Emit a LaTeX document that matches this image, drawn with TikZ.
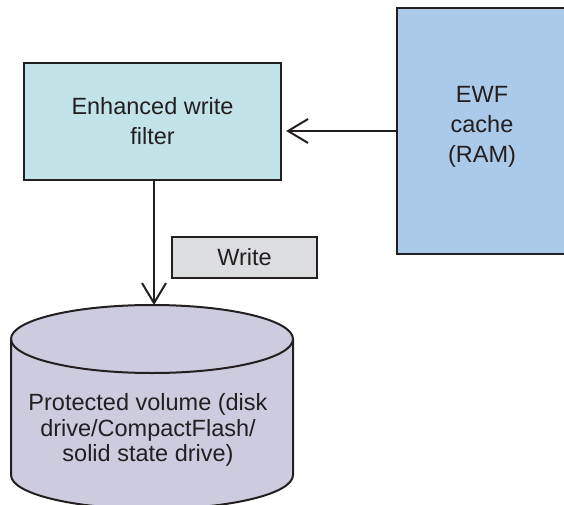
\documentclass[tikz,border=0pt]{standalone}
\usepackage{fontspec}
\setmainfont{Liberation Sans}
\usetikzlibrary{arrows.meta}

\definecolor{inkline}{RGB}{35,31,32}
\definecolor{filterfill}{RGB}{194,228,232}
\definecolor{cachefill}{RGB}{171,201,232}
\definecolor{writefill}{RGB}{220,221,223}
\definecolor{volfill}{RGB}{204,204,222}

\tikzset{
  boxstyle/.style={draw=inkline, line width=2.2pt, inner sep=0pt, align=center,
    text=inkline, font=\fontsize{23.5}{30}\selectfont},
  labelstyle/.style={align=center, text=inkline, font=\fontsize{23.5}{30}\selectfont},
  flowarrow/.style={draw=inkline, line width=2pt,
    -{Straight Barb[length=20pt,width=24pt,line width=2pt]}},
}

\begin{document}
\begin{tikzpicture}[x=1pt,y=1pt]
  \useasboundingbox (0,0) rectangle (564,504);

  % filter box
  \node[boxstyle, fill=filterfill, minimum width=257pt, minimum height=117pt]
    (filter) at (152.5,382.5) {Enhanced write\\filter};

  % RAM cache box, running off the right edge of the page
  \node[boxstyle, fill=cachefill, minimum width=190pt, minimum height=246pt]
    (cache) at (492,373) {};
  \node[labelstyle] (cachetext) at ([xshift=-10pt,yshift=4pt]cache.center) {EWF\\cache\\(RAM)};

  % label box beside the write path
  \node[boxstyle, fill=writefill, minimum width=145pt, minimum height=41pt]
    (writelbl) at (244.5,246.5) {Write};

  % protected volume drawn as a cylinder
  \fill[volfill] (11,165) -- (11,29) arc[start angle=180, end angle=360, x radius=141, y radius=34]
    -- (293,165) arc[start angle=0, end angle=180, x radius=141, y radius=34] -- cycle;
  \draw[inkline, line width=2pt] (11,165) -- (11,29)
    arc[start angle=180, end angle=360, x radius=141, y radius=34] -- (293,165);
  \draw[inkline, line width=2pt] (152,165) ellipse[x radius=141, y radius=34];
  \coordinate (voltop) at (154,199);
  \node[align=center, text=inkline, font=\fontsize{23.5}{25.5}\selectfont]
    (volume) at (148,74) {Protected volume (disk\\drive/CompactFlash/\\solid state drive)};

  % connectors
  \draw[flowarrow, shorten >=4pt] (cache.west |- 0,373) -- (filter.east |- 0,373);
  \draw[flowarrow] (filter.south -| voltop) -- (voltop);
\end{tikzpicture}
\end{document}
